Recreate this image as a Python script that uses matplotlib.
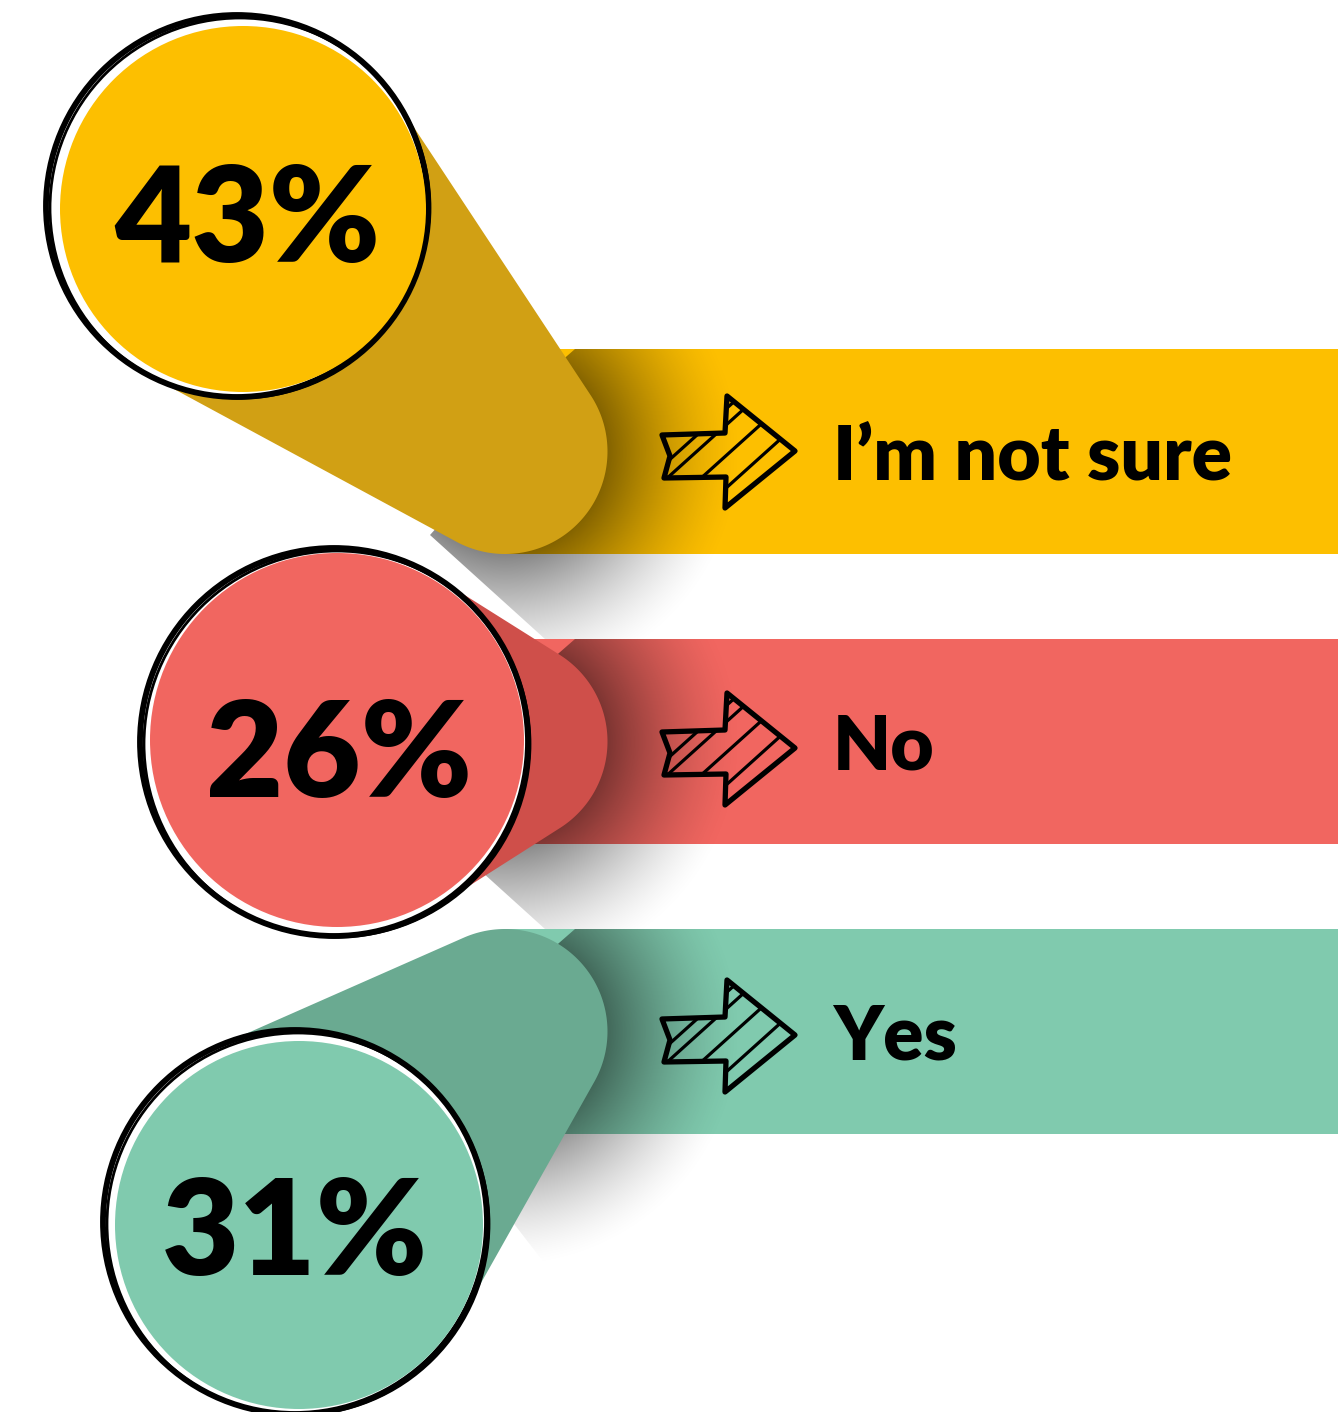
import numpy as np
import matplotlib
matplotlib.use("Agg")
import matplotlib.pyplot as plt
from matplotlib.patches import Polygon, Circle, Rectangle

# ---- data ----
categories = ["I\u2019m not sure", "No", "Yes"]
percents = [43, 26, 31]
band_colors = ["#FDBF00", "#F16660", "#80CAAE"]
dark_colors = ["#D1A014", "#CF4F4A", "#6AAA91"]

# ---- layout (pixel space) ----
W, H = 1338, 1412
band_top = [349, 639, 929]
band_h = 205
cap_x = 505
big_circ = [(237, 206, 191), (334, 742, 194), (295, 1222, 192)]
fill_circ = [(243, 209, 183), (337, 740, 187), (299, 1225, 184)]
pct_pos = [(247, 262), (339, 797), (295, 1275)]

plt.rcParams['font.family'] = ['Lato', 'DejaVu Sans']

fig = plt.figure(figsize=(W / 100, H / 100), dpi=100)
ax = fig.add_axes([0, 0, 1, 1])
ax.set_xlim(0, W)
ax.set_ylim(H, 0)
ax.axis('off')


def hull(points):
    pts = sorted(map(tuple, points))
    def cross(o, a, b):
        return (a[0]-o[0])*(b[1]-o[1]) - (a[1]-o[1])*(b[0]-o[0])
    lower, upper = [], []
    for p in pts:
        while len(lower) >= 2 and cross(lower[-2], lower[-1], p) <= 0:
            lower.pop()
        lower.append(p)
    for p in reversed(pts):
        while len(upper) >= 2 and cross(upper[-2], upper[-1], p) <= 0:
            upper.pop()
        upper.append(p)
    return np.array(lower[:-1] + upper[:-1])


th = np.linspace(0, 2*np.pi, 360, endpoint=False)
yy, xx = np.mgrid[0:H, 0:W]

for i in range(3):
    top = band_top[i]
    cy = top + band_h / 2
    r = band_h / 2
    # band
    ax.add_patch(Rectangle((cap_x, top), W - cap_x + 5, band_h,
                           facecolor=band_colors[i], edgecolor='none', zorder=1))
    # shadow gradient
    d = np.hypot(xx - cap_x, yy - cy)
    t = np.clip((d - r) / 135.0, 0, 1)
    a = (1 - t) ** 1.5 * 0.48
    a[d < r] = 0.48
    img = np.zeros((H, W, 4))
    img[..., 3] = a
    im = ax.imshow(img, extent=(0, W, H, 0), origin='upper', zorder=2,
                   interpolation='bilinear')
    bottom_lim = band_top[i + 1] if i < 2 else top + band_h + 130
    clip = Polygon([(575, top), (830, top), (830, bottom_lim),
                    (545, bottom_lim), (430, top + band_h - 19),
                    (cap_x, cy), (cap_x + 50, cy - 85)],
                   closed=True, transform=ax.transData, facecolor='none',
                   edgecolor='none')
    ax.add_patch(clip)
    im.set_clip_path(clip)
    # cylinder
    bx, by, br = big_circ[i]
    pts = np.vstack([np.c_[bx + br*np.cos(th), by + br*np.sin(th)],
                     np.c_[cap_x + r*np.cos(th), cy + r*np.sin(th)]])
    ax.add_patch(Polygon(hull(pts), closed=True, facecolor=dark_colors[i],
                         edgecolor='none', zorder=3))

for i in range(3):
    bx, by, br = big_circ[i]
    fx, fy, fr = fill_circ[i]
    ax.add_patch(Circle((bx, by), br, facecolor='white', edgecolor='black',
                        lw=4.2, zorder=4))
    ax.add_patch(Circle((bx + 3, by + 2), br - 1, facecolor='none',
                        edgecolor='black', lw=2.0, zorder=4))
    ax.add_patch(Circle((fx, fy), fr, facecolor=band_colors[i],
                        edgecolor='none', zorder=4.5))
    px, py = pct_pos[i]
    ax.text(px, py, f"{percents[i]}%", fontsize=96, fontweight='heavy',
            ha='center', va='baseline', color='black', zorder=5)

# arrows
arrow_cy = [453, 750, 1037]
for i in range(3):
    c = arrow_cy[i]
    outline = [(662, c - 18), (725, c - 20), (727, c - 57), (795, c - 2),
               (725, c + 55), (726, c + 24), (664, c + 25), (670, c + 3)]
    poly = Polygon(outline, closed=True, facecolor='none', edgecolor='black',
                   lw=3.8, joinstyle='round', zorder=6)
    ax.add_patch(poly)
    clip = Polygon(outline, closed=True, transform=ax.transData,
                   facecolor='none', edgecolor='none')
    ax.add_patch(clip)
    for x0 in [677, 695, 729, 765]:
        ln, = ax.plot([x0 - 80, x0 + 80], [c + 80 * 0.9, c - 80 * 0.9],
                      color='black', lw=2.3, zorder=6, solid_capstyle='round')
        ln.set_clip_path(clip)

label_base = [480, 769, 1060]
for i in range(3):
    ax.text(833, label_base[i], categories[i], fontsize=54, fontweight='heavy',
            ha='left', va='baseline', color='black', zorder=6)

fig.savefig("out.png", dpi=100)
